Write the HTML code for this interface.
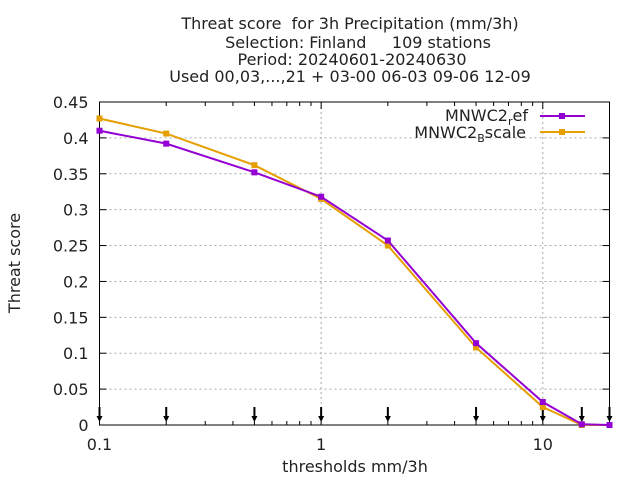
<!DOCTYPE html>
<html><head><meta charset="utf-8"><style>
body{margin:0;background:#fff}
svg text{font-family:"DejaVu Sans","Liberation Sans",sans-serif;fill:#222;white-space:pre}
</style></head><body>
<svg id="c" width="640" height="480" xmlns="http://www.w3.org/2000/svg">
<g font-size="16" text-anchor="middle">
<text x="350" y="29" xml:space="preserve">Threat score  for 3h Precipitation (mm/3h)</text>
<text x="358" y="48" xml:space="preserve">Selection: Finland     109 stations</text>
<text x="352" y="65">Period: 20240601-20240630</text>
<text x="350" y="82">Used 00,03,...,21 + 03-00 06-03 09-06 12-09</text>
</g>
<g id="grid"></g>
<g id="axes"></g>
<g id="series"></g>
<text x="20" y="263" font-size="16" text-anchor="middle" transform="rotate(-90 20 263)">Threat score</text>
<text x="355" y="472" font-size="16" text-anchor="middle">thresholds mm/3h</text>
<g font-size="16" text-anchor="end">
<g><text x="528" y="121">MNWC2<tspan font-size="11" dy="4">r</tspan><tspan dy="-4">ef</tspan></text>
<line x1="540" y1="116" x2="585" y2="116" stroke="#9400d3" stroke-width="2"/><rect x="559" y="113" width="6" height="6" fill="#9400d3"/></g>
<g><text x="526" y="138">MNWC2<tspan font-size="11" dy="4">B</tspan><tspan dy="-4">scale</tspan></text>
<line x1="540" y1="132" x2="585" y2="132" stroke="#e69f00" stroke-width="2"/><rect x="559" y="129" width="6" height="6" fill="#e69f00"/></g>
</g>
</svg>
<script>
const thresholds=[0.1,0.2,0.5,1,2,5,10,15,20];
const refValues=[0.41,0.392,0.352,0.318,0.257,0.114,0.032,0.001,0.0];
const bscaleValues=[0.427,0.406,0.362,0.315,0.25,0.108,0.025,0.0,0.0];
const yTicks=[0,0.05,0.1,0.15,0.2,0.25,0.3,0.35,0.4,0.45];
const yTickLabels=["0","0.05","0.1","0.15","0.2","0.25","0.3","0.35","0.4","0.45"];
const xTicks=[0.1,1,10];
const xTickLabels=["0.1","1","10"];
const NS="http://www.w3.org/2000/svg";
const L=99.5,R=609.5,T=102,B=425;
function X(v){return L+(Math.log10(v)-Math.log10(0.1))/(Math.log10(20)-Math.log10(0.1))*(R-L);}
function Y(v){return B-v/0.45*(B-T);}
function mk(p,t,a){const e=document.createElementNS(NS,t);for(const k in a)e.setAttribute(k,a[k]);p.appendChild(e);return e;}
const grid=document.getElementById('grid'),axes=document.getElementById('axes'),ser=document.getElementById('series');
yTicks.forEach((v,i)=>{
 if(i>0&&i<yTicks.length-1){const g=mk(grid,'line',{x1:L,x2:R,y1:Y(v),y2:Y(v),stroke:'#aaa','stroke-dasharray':'2,3'});
 
 }
 mk(axes,'line',{x1:L,x2:L+7,y1:Y(v),y2:Y(v),stroke:'#000'});
 mk(axes,'line',{x1:R,x2:R-7,y1:Y(v),y2:Y(v),stroke:'#000'});
 const t=mk(axes,'text',{x:L-11,y:Y(v)+6,'text-anchor':'end','font-size':16});t.textContent=yTickLabels[i];
 
 
});
xTicks.forEach((v,i)=>{
 const g=mk(grid,'line',{x1:X(v),x2:X(v),y1:T,y2:B,stroke:'#aaa','stroke-dasharray':'2,3'});
 
 
 const t=mk(axes,'text',{x:X(v),y:B+25,'text-anchor':'middle','font-size':16});t.textContent=xTickLabels[i];
 
 
});
for(let d=0.1;d<=10;d*=10){for(let m=1;m<10;m++){const v=d*m;if(v>20)break;const big=(m==1);
 mk(axes,'line',{x1:X(v),x2:X(v),y1:B,y2:B-(big?7:4),stroke:'#000'});
 mk(axes,'line',{x1:X(v),x2:X(v),y1:T,y2:T+(big?7:4),stroke:'#000'});}}
mk(axes,'rect',{x:L,y:T,width:R-L,height:B-T,fill:'none',stroke:'#000','stroke-width':1});
thresholds.forEach(v=>{
 const a=mk(axes,'g',{});
 
 
 mk(a,'line',{x1:X(v),x2:X(v),y1:407,y2:420,stroke:'#000','stroke-width':2});
 mk(a,'path',{d:`M${X(v)-3},416 L${X(v)+3},416 L${X(v)},422 Z`,fill:'#000'});
});
function series(vals,color,name){
 const g=mk(ser,'g',{});
 
 
 mk(g,'polyline',{points:thresholds.map((t,i)=>X(t)+','+Y(vals[i])).join(' '),fill:'none',stroke:color,'stroke-width':2});
 vals.forEach((v,i)=>{const p=mk(g,'rect',{x:X(thresholds[i])-3,y:Y(v)-3,width:6,height:6,fill:color});
 
 });
}
series(bscaleValues,'#e69f00','series-bscale');
series(refValues,'#9400d3','series-ref');
</script>
</body></html>
